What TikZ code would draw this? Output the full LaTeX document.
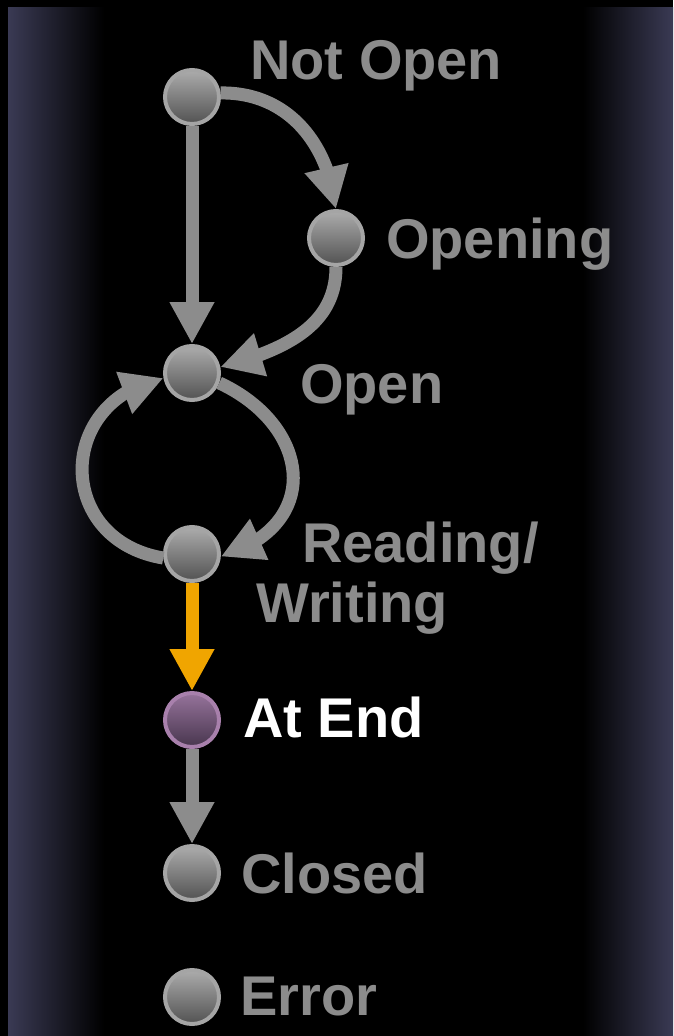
\documentclass[tikz,border=0pt]{standalone}
\usepackage{fontspec}
\setmainfont{Liberation Sans}
\usetikzlibrary{arrows.meta,bending}
\definecolor{panelblue}{RGB}{58,58,84}
\definecolor{edgegray}{RGB}{140,140,140}
\definecolor{txtgray}{RGB}{140,140,140}
\definecolor{ringgray}{RGB}{165,165,165}
\definecolor{nodetop}{RGB}{172,172,172}
\definecolor{nodebot}{RGB}{82,82,82}
\definecolor{ringpurple}{RGB}{168,128,172}
\definecolor{purptop}{RGB}{150,115,155}
\definecolor{purpbot}{RGB}{72,54,78}
\definecolor{arroworange}{RGB}{240,165,0}
\begin{document}
\begin{tikzpicture}[x=1pt,y=-1pt,
  state/.style={circle, minimum size=54pt, inner sep=0pt, line width=4pt, draw=ringgray, top color=nodetop, bottom color=nodebot, shading angle=0},
  endstate/.style={state, draw=ringpurple, top color=purptop, bottom color=purpbot},
  lbl/.style={anchor=base west, inner sep=0pt, text=txtgray, font=\fontsize{56}{60}\selectfont\bfseries},
  hilbl/.style={lbl, text=white},
  conn/.style={draw=edgegray, line width=13pt, -{Triangle[width=42pt,length=42pt]}},
  hiconn/.style={conn, draw=arroworange, fill=arroworange}
]
\useasboundingbox (0,0) rectangle (673,1036);
\fill[black] (0,0) rectangle (673,1036);
\shade[left color=panelblue, right color=black] (8,7) rectangle (104,1036);
\shade[left color=black, right color=panelblue] (583,7) rectangle (673,1036);

\node[state] (notopen) at (192,97) {};
\node[state] (opening) at (336,238) {};
\node[state] (open) at (192,373) {};
\node[state] (rw) at (192,554) {};
\node[endstate] (atend) at (192,720) {};
\node[state] (closed) at (192,873) {};
\node[state] (error) at (192,997) {};

\node[lbl] (tnotopen) at (250,79) {Not Open};
\node[lbl] (topening) at (386,258) {Opening};
\node[lbl] (topen) at (300,403) {Open};
\node[lbl] (treading) at (302,562) {Reading/};
\node[lbl] (twriting) at (256,622) {Writing};
\node[hilbl] (tatend) at (243,737) {At End};
\node[lbl] (tclosed) at (241,893) {Closed};
\node[lbl] (terror) at (240,1015) {Error};

\draw[conn] (notopen.south) -- (open.north);
\draw[conn] (notopen.8) .. controls (285,92) and (328,140) .. (opening.north);
\draw[conn] (opening.south) .. controls (336,320) and (295,348) .. (open.12);
\draw[conn] (open.-20) .. controls (310,425) and (325,525) .. (rw.-5);
\draw[conn] (rw.188) .. controls (55,540) and (55,400) .. (open.190);
\draw[hiconn] (rw.south) -- (atend.north);
\draw[conn] (atend.south) -- (closed.north);
\end{tikzpicture}
\end{document}
